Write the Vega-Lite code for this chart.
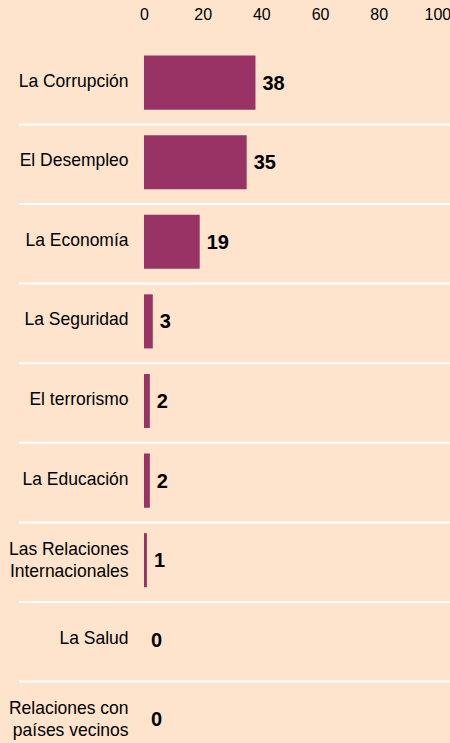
{
  "$schema": "https://vega.github.io/schema/vega-lite/v6.json",
  "autosize": "none",
  "padding": {"left": 19, "top": 44.8, "right": 0, "bottom": 0},
  "width": 431,
  "height": {"step": 79.6},
  "background": "#FEE4CC",
  "config": {"view": {"stroke": null}, "font": "Liberation Sans"},
  "data": {
    "values": [
      {"tema": "La Corrupción", "valor": 38},
      {"tema": "El Desempleo", "valor": 35},
      {"tema": "La Economía", "valor": 19},
      {"tema": "La Seguridad", "valor": 3},
      {"tema": "El terrorismo", "valor": 2},
      {"tema": "La Educación", "valor": 2},
      {"tema": "Las Relaciones|Internacionales", "valor": 1},
      {"tema": "La Salud", "valor": 0},
      {"tema": "Relaciones con|países vecinos", "valor": 0}
    ]
  },
  "encoding": {
    "y": {
      "field": "tema",
      "type": "nominal",
      "sort": null,
      "scale": {"paddingInner": 0.32, "paddingOuter": 0.16},
      "axis": {
        "orient": "left",
        "offset": -125,
        "domain": false,
        "ticks": false,
        "labelPadding": 16,
        "labelFontSize": 17.5,
        "labelColor": "#000000",
        "labelExpr": "split(datum.label, '|')",
        "labelLineHeight": 22,
        "labelOffset": {"condition": {"test": "indexof(datum.label, '|') >= 0", "value": -12}, "value": -3},
        "labelLimit": 0,
        "title": null
      }
    }
  },
  "layer": [
    {
      "transform": [{"filter": "datum.tema !== 'Relaciones con|países vecinos'"}],
      "mark": {"type": "rule", "color": "#FFFFFF", "strokeWidth": 2, "yOffset": 39.8},
      "encoding": {}
    },
    {
      "mark": {"type": "bar", "color": "#993366", "yOffset": -2},
      "encoding": {
        "x": {
          "field": "valor",
          "type": "quantitative",
          "scale": {"domain": [-42.6, 104.3], "nice": false, "zero": false},
          "axis": {
            "orient": "top",
            "values": [0, 20, 40, 60, 80, 100],
            "grid": false,
            "ticks": false,
            "domain": false,
            "labelPadding": 22,
            "labelFontSize": 16,
            "labelColor": "#000000",
            "labelFlush": false,
            "title": null
          }
        },
        "x2": {"datum": 0}
      }
    },
    {
      "mark": {"type": "text", "align": "left", "baseline": "middle", "dx": 7, "dy": -1, "fontSize": 20, "fontWeight": "bold", "color": "#000000"},
      "encoding": {
        "x": {"field": "valor", "type": "quantitative"},
        "text": {"field": "valor", "type": "quantitative"}
      }
    }
  ]
}
